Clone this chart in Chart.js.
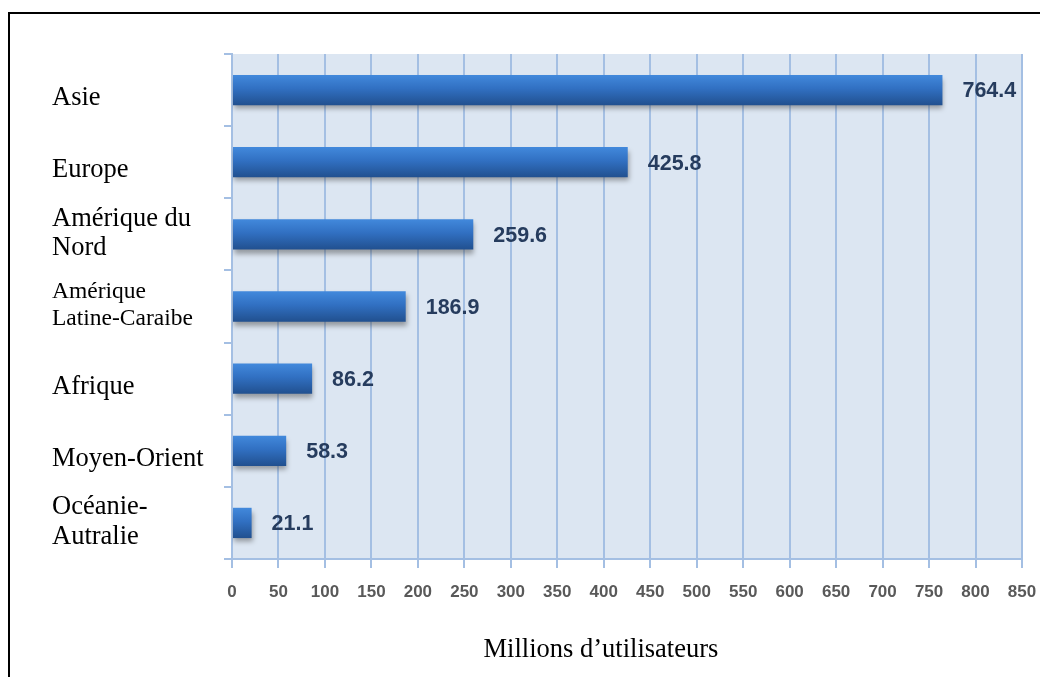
<!DOCTYPE html>
<html>
<head>
<meta charset="utf-8">
<script src="https://cdn.jsdelivr.net/npm/chart.js@4"></script>
<style>
    html, body { margin: 0; padding: 0; background: #ffffff; }
    #wrap { width: 1040px; height: 677px; }
</style>
</head>
<body>
<div id="wrap"><canvas id="chart" width="1040" height="677"></canvas></div>
<script>
// ==========================================
// DATA
// ==========================================
const regions = [
    ['Asie'],
    ['Europe'],
    ['Amérique du', 'Nord'],
    ['Amérique', 'Latine-Caraibe'],
    ['Afrique'],
    ['Moyen-Orient'],
    ['Océanie-', 'Autralie']
];
const users = [764.4, 425.8, 259.6, 186.9, 86.2, 58.3, 21.1];
const axisTitle = 'Millions d\u2019utilisateurs';
const xMin = 0;
const xMax = 850;
const xStep = 50;

const serif = '"Liberation Serif", "Times New Roman", serif';
const sans = '"Liberation Sans", Arial, sans-serif';
const gridBlue = '#a4bfe3';

// ==========================================
// PLUGINS
// ==========================================
const frameAndBackground = {
    id: 'frameAndBackground',
    beforeDraw(chart) {
        const { ctx, chartArea: a } = chart;
        ctx.save();
        ctx.fillStyle = '#dce6f2';
        ctx.fillRect(a.left, a.top, a.right - a.left, a.bottom - a.top);
        ctx.strokeStyle = '#000000';
        ctx.lineWidth = 2;
        ctx.strokeRect(9, 13, 1050, 690);
        ctx.restore();
    },
    afterDraw(chart) {
        // axis title sits a bit left of the plot centre in the original
        const { ctx, chartArea: a } = chart;
        ctx.save();
        ctx.font = '26.5px ' + serif;
        ctx.fillStyle = '#000000';
        ctx.textAlign = 'center';
        ctx.textBaseline = 'alphabetic';
        ctx.fillText(axisTitle, a.left + (a.right - a.left) * 0.467, 657);
        ctx.restore();
    }
};

const barLook = {
    id: 'barLook',
    beforeDatasetsDraw(chart) {
        const { ctx } = chart;
        // one vertical gradient per bar
        chart.getDatasetMeta(0).data.forEach(bar => {
            const top = bar.y - bar.height / 2;
            const g = ctx.createLinearGradient(0, top, 0, top + bar.height);
            g.addColorStop(0, '#4289dc');
            g.addColorStop(0.45, '#3170c2');
            g.addColorStop(1, '#21508f');
            bar.options.backgroundColor = g;
        });
        ctx.save();
        ctx.shadowColor = 'rgba(60, 60, 60, 0.45)';
        ctx.shadowBlur = 5;
        ctx.shadowOffsetX = 1;
        ctx.shadowOffsetY = 4;
    },
    afterDatasetsDraw(chart) {
        const { ctx } = chart;
        ctx.restore();

        // value labels at the bar ends
        ctx.save();
        ctx.font = 'bold 21.5px ' + sans;
        ctx.fillStyle = '#263c5e';
        ctx.textAlign = 'left';
        ctx.textBaseline = 'middle';
        chart.getDatasetMeta(0).data.forEach((bar, i) => {
            ctx.fillText(users[i].toFixed(1), bar.x + 20, bar.y + 1.5);
        });
        ctx.restore();
    }
};

// ==========================================
// CHART
// ==========================================
new Chart(document.getElementById('chart'), {
    type: 'bar',
    data: {
        labels: regions,
        datasets: [{
            data: users,
            // scriptable so every bar keeps its own options object
            backgroundColor: c => '#3170c2',
            borderWidth: 0,
            barPercentage: 0.42,
            categoryPercentage: 1
        }]
    },
    options: {
        indexAxis: 'y',
        responsive: false,
        animation: false,
        layout: {
            padding: { left: 52, top: 54, right: 18, bottom: 0 }
        },
        plugins: {
            legend: { display: false },
            tooltip: { enabled: false }
        },
        scales: {
            x: {
                min: xMin,
                max: xMax,
                afterFit: scale => {
                    scale.height = 118;
                    scale.paddingRight = 0;
                    scale.paddingLeft = 0;
                },
                grid: {
                    color: gridBlue,
                    lineWidth: 2,
                    tickLength: 9
                },
                border: { color: gridBlue, width: 2 },
                ticks: {
                    stepSize: xStep,
                    padding: 14,
                    color: '#595959',
                    font: { family: sans, size: 17, weight: 'bold' }
                }
            },
            y: {
                afterFit: scale => { scale.width = 180; },
                grid: {
                    color: gridBlue,
                    lineWidth: 2,
                    tickLength: 8,
                    drawOnChartArea: false,
                    offset: true
                },
                border: { color: gridBlue, width: 2 },
                ticks: {
                    crossAlign: 'far',
                    color: '#000000',
                    labelOffset: -1,
                    // single-line labels sit a little below the band centre
                    callback: (v, i) => regions[i].length === 1 ? ['', regions[i][0]] : regions[i],
                    font: ctx => {
                        const single = regions[ctx.index].length === 1;
                        if (ctx.index === 3) {
                            return { family: serif, size: 23.5, lineHeight: '26.5px' };
                        }
                        return { family: serif, size: 26.5, lineHeight: single ? '18px' : '29.5px' };
                    }
                }
            }
        }
    },
    plugins: [frameAndBackground, barLook]
});
</script>
</body>
</html>
